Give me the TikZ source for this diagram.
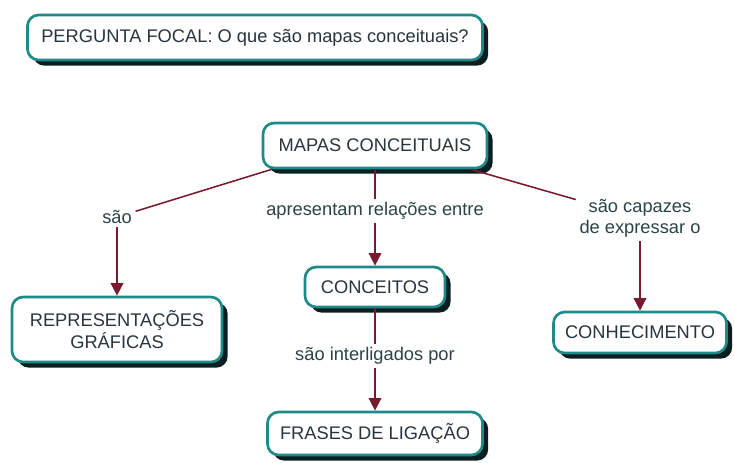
\documentclass[tikz,border=0pt]{standalone}
\usepackage{fontspec}
\setmainfont{Liberation Sans}
\usepackage{tikz}
\usetikzlibrary{shapes, arrows.meta, shadows}

\definecolor{boxteal}{HTML}{1F8A8A}
\definecolor{boxshadow}{HTML}{0C1F20}
\definecolor{boxtext}{HTML}{28343F}
\definecolor{labeltext}{HTML}{2A4448}
\definecolor{linkred}{HTML}{7A1A2E}

\begin{document}
\begin{tikzpicture}[
    x=0.025cm, y=-0.025cm,
    concept/.style={
        draw=boxteal, line width=1.9pt, fill=white, rounded corners=0.28cm,
        text=boxtext, align=center, inner sep=2pt,
        drop shadow={shadow xshift=0.14cm, shadow yshift=-0.14cm, fill=boxshadow, opacity=1},
        font=\fontsize{13}{15.5}\selectfont
        },
    linking/.style={
        text=labeltext, align=center, inner sep=2.5pt, fill=white,
        font=\fontsize{13}{15}\selectfont
        },
    link/.style={draw=linkred, line width=1.1pt},
    every node/.style={
        text centered,
        }
        ]
    \useasboundingbox (0, 0) rectangle (734, 462);

    \node[concept, minimum width=11.375cm, minimum height=1.125cm] (focal) at (255, 37.5) {PERGUNTA FOCAL: O que são mapas conceituais?};

    \node[concept, minimum width=5.6cm, minimum height=1.125cm] (mapas) at (375, 145.5) {MAPAS CONCEITUAIS};

    \node[concept, minimum width=5.25cm, minimum height=1.625cm] (repr) at (117, 329.5) {REPRESENTAÇÕES\\GRÁFICAS};
    \node[concept, minimum width=3.5cm, minimum height=1cm] (conceitos) at (375, 287) {CONCEITOS};
    \node[concept, minimum width=4.325cm, minimum height=1.025cm] (conhec) at (640, 332.5) {CONHECIMENTO};
    \node[concept, minimum width=5.375cm, minimum height=1.075cm] (frases) at (375, 433.5) {FRASES DE LIGAÇÃO};

    \node[linking] (sao) at (117, 217) {são};
    \node[linking] (apres) at (375, 211) {apresentam relações entre};
    \node[linking] (capazes) at (640, 218) {são capazes\\de expressar o};
    \node[linking] (interl) at (375, 356) {são interligados por};

    \draw[link] (mapas.193) -- (sao);
    \draw[link, ->, >={Triangle[length=9pt, width=9pt]}] (sao) -- (repr);
    \draw[link] (mapas) -- (apres);
    \draw[link, ->, >={Triangle[length=9pt, width=9pt]}] (apres) -- (conceitos);
    \draw[link] (mapas.-14) -- (capazes);
    \draw[link, ->, >={Triangle[length=9pt, width=9pt]}] (capazes) -- (conhec);
    \draw[link] (conceitos) -- (interl);
    \draw[link, ->, >={Triangle[length=9pt, width=9pt]}] (interl) -- (frases);
\end{tikzpicture}
\end{document}
